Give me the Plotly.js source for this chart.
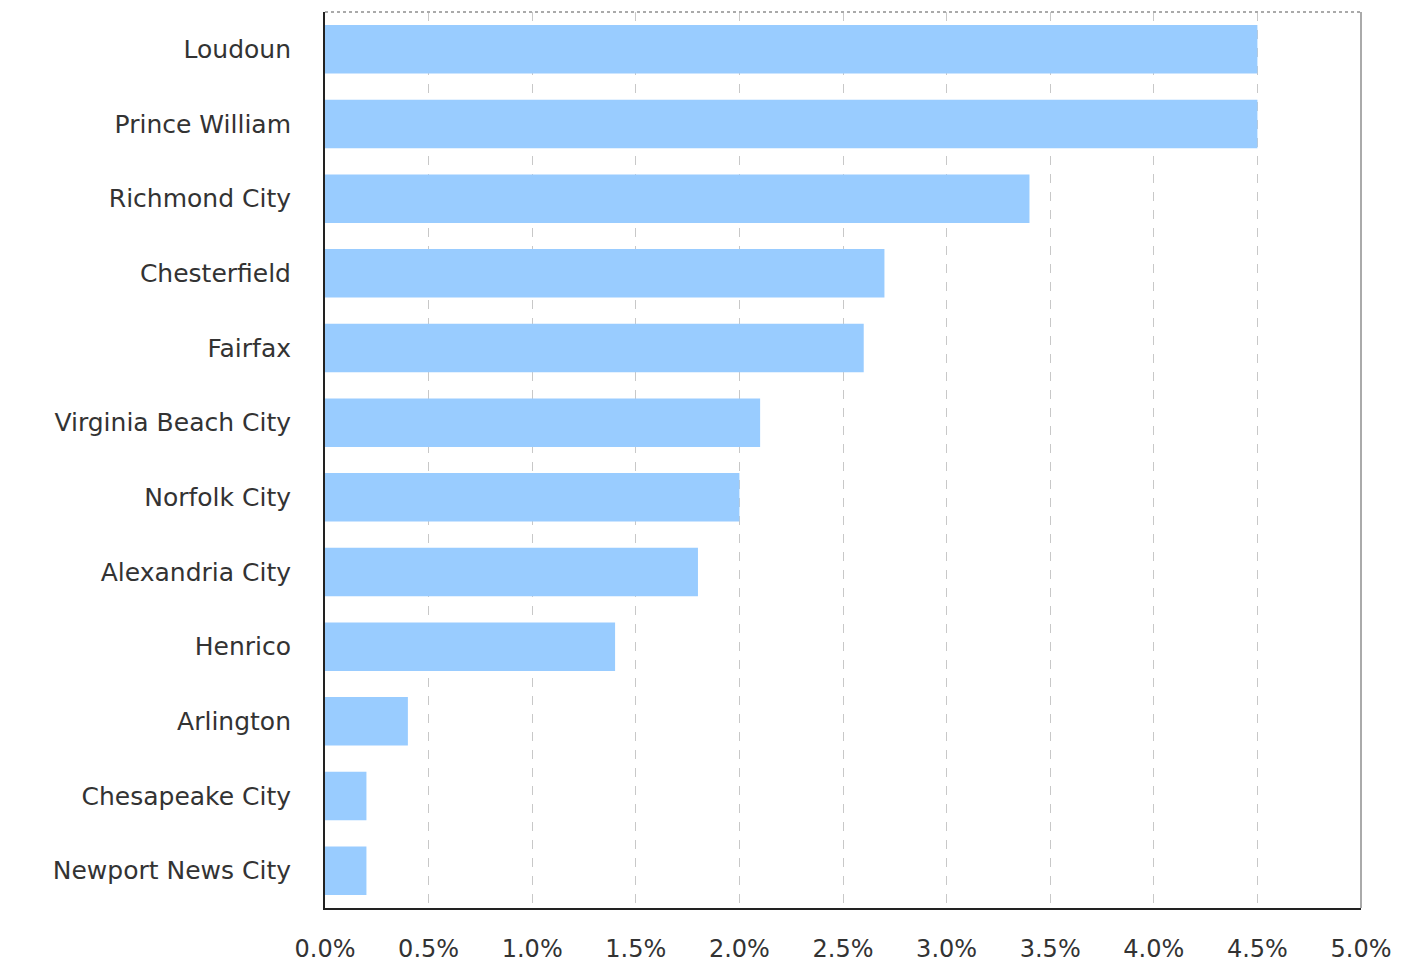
<!DOCTYPE html>
<html>
<head>
<meta charset="utf-8">
<script src="https://cdn.plot.ly/plotly-3.0.1.min.js"></script>
<style>html,body{margin:0;padding:0;background:#fff;}#chart{width:1401px;height:968px;}</style>
</head>
<body>
<div id="chart"></div>
<script>
const categories = ["Loudoun","Prince William","Richmond City","Chesterfield","Fairfax","Virginia Beach City","Norfolk City","Alexandria City","Henrico","Arlington","Chesapeake City","Newport News City"];
const values = [0.045,0.045,0.034,0.027,0.026,0.021,0.020,0.018,0.014,0.004,0.002,0.002];
const xTicks = [0,0.005,0.01,0.015,0.02,0.025,0.03,0.035,0.04,0.045,0.05];

const trace = {
  type: 'bar',
  orientation: 'h',
  y: categories,
  x: values,
  marker: {color: '#99CCFF', line: {width: 0}},
  hoverinfo: 'none'
};

const layout = {
  width: 1401, height: 968,
  margin: {l: 325, r: 40, t: 12, b: 60},
  paper_bgcolor: '#fff', plot_bgcolor: '#fff',
  font: {family: 'DejaVu Sans, Verdana, sans-serif', size: 25, color: '#333'},
  bargap: 0.35,
  showlegend: false,
  xaxis: {
    range: [0, 0.05],
    tickvals: xTicks,
    tickformat: '.1%',
    showgrid: true,
    gridcolor: '#c8c8c8',
    griddash: 'dash',
    gridwidth: 1,
    zeroline: false,
    showline: true,
    linecolor: '#222',
    linewidth: 2,
    ticks: 'outside',
    ticklen: 18,
    tickcolor: 'rgba(0,0,0,0)',
    tickfont: {size: 24, color: '#333'}
  },
  yaxis: {
    autorange: 'reversed',
    type: 'category',
    showgrid: false,
    zeroline: false,
    showline: true,
    linecolor: '#222',
    linewidth: 2,
    ticks: 'outside',
    ticklen: 27,
    tickcolor: 'rgba(0,0,0,0)',
    tickfont: {size: 25, color: '#333'}
  },
  shapes: [
    {type: 'line', xref: 'paper', yref: 'paper', x0: 0, x1: 1, y0: 1, y1: 1, line: {color: '#aaa', width: 2, dash: 'dot'}},
    {type: 'line', xref: 'paper', yref: 'paper', x0: 1, x1: 1, y0: 0, y1: 1, line: {color: '#aaa', width: 2}}
  ]
};

Plotly.newPlot('chart', [trace], layout, {staticPlot: true, displayModeBar: false});
</script>
</body>
</html>
